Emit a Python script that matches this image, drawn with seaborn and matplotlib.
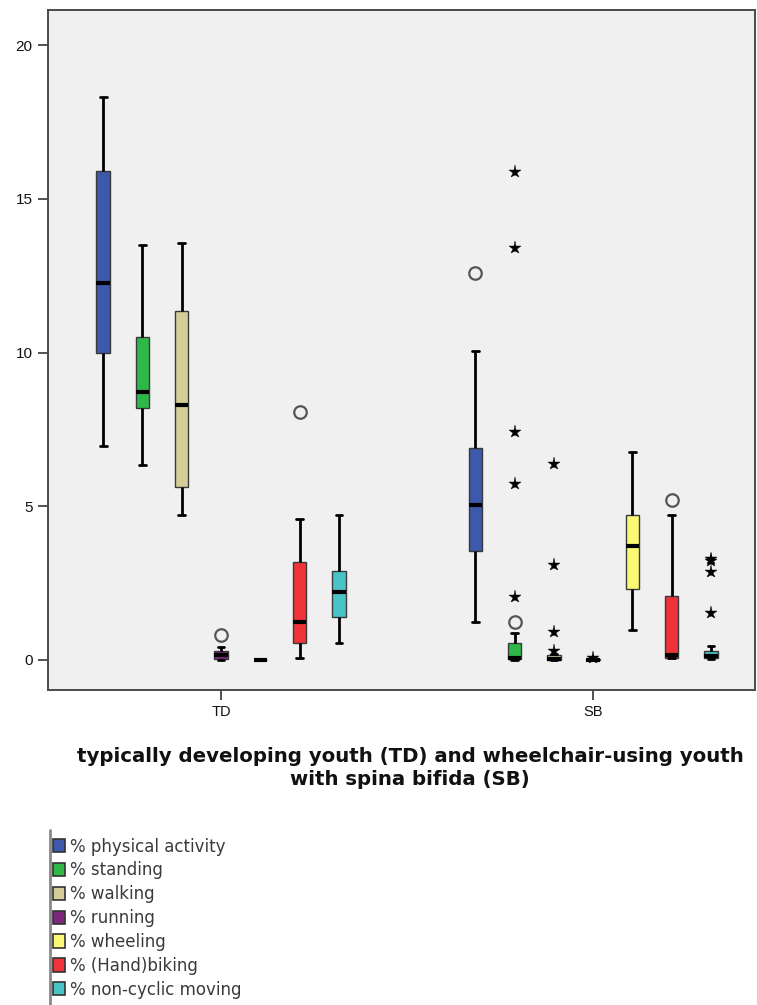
import numpy as np
import pandas as pd
import matplotlib
matplotlib.use("Agg")
import matplotlib.pyplot as plt
from matplotlib.lines import Line2D
import seaborn as sns

# ---------------- data ----------------
groups = ["TD", "SB"]
variables = ["% physical activity", "% standing", "% walking", "% running",
             "% wheeling", "% (Hand)biking", "% non-cyclic moving"]
colors = ["#3E58AC", "#2EB848", "#D3CE97", "#7C287D", "#FBF873", "#EF3338", "#48C4C6"]

# five-number summaries: min, Q1, median, Q3, max (whisker to whisker)
td_physical = [6.95, 10.0, 12.25, 15.9, 18.3]
td_standing = [6.35, 8.2, 8.73, 10.5, 13.5]
td_walking = [4.7, 5.63, 8.29, 11.35, 13.55]
td_running = [0.0, 0.03, 0.15, 0.3, 0.42]
td_wheeling = [0.0, 0.0, 0.0, 0.0, 0.0]
td_biking = [0.05, 0.56, 1.22, 3.2, 4.6]
td_noncyclic = [0.55, 1.4, 2.2, 2.9, 4.72]

sb_physical = [1.25, 3.55, 5.05, 6.88, 10.05]
sb_standing = [0.0, 0.03, 0.06, 0.55, 0.87]
sb_walking = [0.0, 0.0, 0.03, 0.15, 0.2]
sb_running = [0.0, 0.0, 0.0, 0.03, 0.06]
sb_wheeling = [0.97, 2.3, 3.7, 4.7, 6.75]
sb_biking = [0.05, 0.08, 0.15, 2.08, 4.7]
sb_noncyclic = [0.02, 0.05, 0.12, 0.3, 0.45]

# outliers (circles) and extreme values (stars)
circle_group = ["TD", "TD", "SB", "SB", "SB"]
circle_var = ["% running", "% (Hand)biking", "% physical activity", "% standing", "% (Hand)biking"]
circle_value = [0.81, 8.05, 12.58, 1.25, 5.2]

star_group = ["SB"] * 14
star_var = ["% standing"] * 5 + ["% walking"] * 4 + ["% running"] + ["% non-cyclic moving"] * 4
star_value = [15.87, 13.4, 7.4, 5.72, 2.05,
              6.38, 3.1, 0.92, 0.3,
              0.08,
              3.28, 3.22, 2.85, 1.52]

# ---------------- build tables ----------------
summ = {
    "TD": [td_physical, td_standing, td_walking, td_running, td_wheeling, td_biking, td_noncyclic],
    "SB": [sb_physical, sb_standing, sb_walking, sb_running, sb_wheeling, sb_biking, sb_noncyclic],
}
rows = []
for g in groups:
    for v, vals in zip(variables, summ[g]):
        for val in vals:
            rows.append({"group": g, "var": v, "value": val})
box_df = pd.DataFrame(rows)

circ_df = pd.DataFrame({"group": circle_group, "var": circle_var, "value": circle_value})
circ_df["rank"] = circ_df.groupby(["group", "var"]).cumcount()
star_df = pd.DataFrame({"group": star_group, "var": star_var, "value": star_value})
star_df["rank"] = star_df.groupby(["group", "var"]).cumcount()

# ---------------- style ----------------
sns.set_theme(style="white")
plt.rcParams["font.family"] = ["Liberation Sans", "DejaVu Sans"]

W = 757 / 100
H = 1005 / 100
fig = plt.figure(figsize=(W, H), dpi=100)
ax = fig.add_axes([48 / 757, 1 - 690 / 1005, (755 - 48) / 757, 680 / 1005])
ax.set_facecolor("#F0F0F0")

box_width = 0.739
sns.boxplot(
    data=box_df, x="group", y="value", hue="var",
    order=groups, hue_order=variables, palette=colors,
    width=box_width, gap=0.66, whis=(0, 100), showfliers=False,
    linewidth=1.0, linecolor="#3a3a3a", saturation=1,
    medianprops=dict(color="black", linewidth=3),
    whiskerprops=dict(color="black", linewidth=2),
    capprops=dict(color="black", linewidth=2),
    ax=ax,
)
handles, labels = ax.get_legend_handles_labels()
if ax.get_legend() is not None:
    ax.get_legend().remove()

dodge_amt = box_width * (len(variables) - 1) / len(variables)
for r in sorted(circ_df["rank"].unique()):
    sub = circ_df[circ_df["rank"] == r]
    sns.pointplot(
        data=sub, x="group", y="value", hue="var",
        order=groups, hue_order=variables, palette=["#555555"] * 7,
        dodge=dodge_amt, errorbar=None, legend=False,
        marker="o", linestyle="none", markersize=9,
        markerfacecolor="none", markeredgecolor="#555555", markeredgewidth=1.6,
        ax=ax, zorder=5,
    )
for r in sorted(star_df["rank"].unique()):
    sub = star_df[star_df["rank"] == r]
    sns.pointplot(
        data=sub, x="group", y="value", hue="var",
        order=groups, hue_order=variables, palette=["black"] * 7,
        dodge=dodge_amt, errorbar=None, legend=False,
        marker="*", linestyle="none", markersize=9.5,
        markerfacecolor="black", markeredgecolor="black", markeredgewidth=0.3,
        ax=ax, zorder=5,
    )

ax.set_xlim(-0.465, 1.435)
ax.set_ylim(-0.976, 21.14)
ax.set_yticks([0, 5, 10, 15, 20])
ax.set_yticklabels(["0", "5", "10", "15", "20"])
ax.set_xlabel("")
ax.set_ylabel("")
ax.tick_params(axis="both", which="both", direction="out", length=7, width=1.2,
               color="#333333", labelcolor="#111111")
ax.tick_params(axis="y", labelsize=11, pad=4, left=True)
ax.tick_params(axis="x", labelsize=10.5, pad=4, bottom=True)
for s in ax.spines.values():
    s.set_visible(True)
    s.set_color("#4a4a4a")
    s.set_linewidth(1.4)

fig.text(410 / 757, 1 - 747 / 1005,
         "typically developing youth (TD) and wheelchair-using youth\nwith spina bifida (SB)",
         ha="center", va="top", fontsize=14.2, fontweight="bold", linespacing=1.25,
         family=["DejaVu Sans"], color="#111111")

leg = fig.legend(handles, labels, loc="upper left",
                 bbox_to_anchor=(50 / 757, 1 - 835 / 1005),
                 frameon=False, prop={"family": "DejaVu Sans", "size": 12},
                 handlelength=0.75, handleheight=0.85,
                 handletextpad=0.3, labelspacing=0.35, borderaxespad=0, borderpad=0.15)
for t in leg.get_texts():
    t.set_color("#3a3a3a")
for h in leg.legend_handles:
    h.set_edgecolor("#333333")
    h.set_linewidth(1.2)

fig.add_artist(Line2D([50 / 757, 50 / 757], [1 - 830 / 1005, 0.0],
                      transform=fig.transFigure, color="#888888", linewidth=2))

fig.savefig("out.png", dpi=100)
